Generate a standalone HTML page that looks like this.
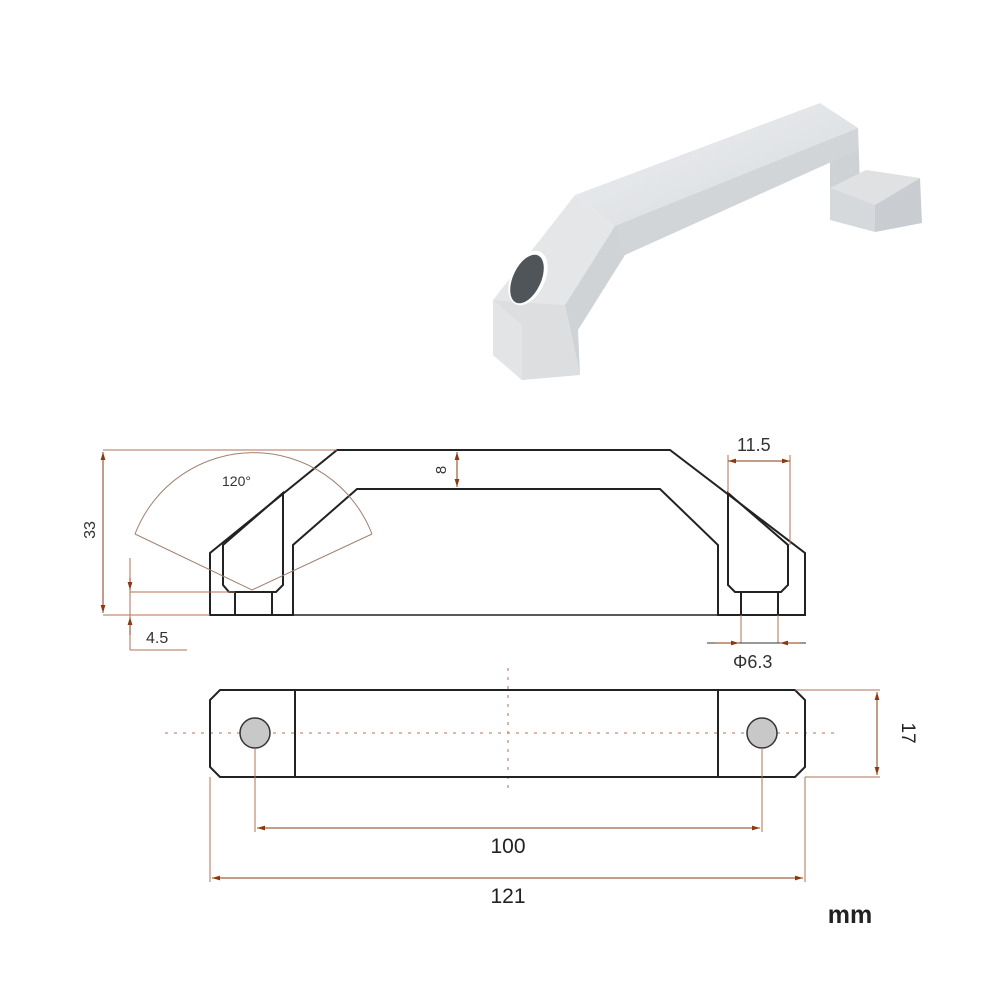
<!DOCTYPE html>
<html><head><style>body{margin:0;background:#fff}svg{display:block}</style></head><body>
<svg width="1000" height="1000" viewBox="0 0 1000 1000" xmlns="http://www.w3.org/2000/svg" font-family="Liberation Sans, sans-serif">
<defs>
<marker id="a" viewBox="0 0 10 10" refX="10" refY="5" markerWidth="8" markerHeight="8" orient="auto-start-reverse"><path d="M0,2 L10,5 L0,8 z" fill="#8a3a10"/></marker>
<linearGradient id="g1" x1="0" y1="0" x2="1" y2="1"><stop offset="0" stop-color="#eef0f2"/><stop offset="1" stop-color="#d6d9dc"/></linearGradient>
</defs>
<!-- photo -->
<g stroke="none">
<polygon points="830,140 858,128 860,185 875,205 830,190" fill="#cfd2d5"/>
<polygon points="830,188 875,205 875,232 830,220" fill="#d6d9dc"/>
<polygon points="875,205 830,188 866,170 920,178" fill="#dfe1e3"/>
<polygon points="875,205 920,178 922,223 875,232" fill="#c9ccd0"/>
<polygon points="610,226 858,128 858,150 625,255" fill="#d2d5d8"/>
<polygon points="575,195 820,103 858,128 615,226" fill="url(#g1)"/>
<polygon points="493,300 575,195 615,226 565,305" fill="#e4e6e8"/>
<polygon points="565,305 615,226 625,255 578,330 580,375" fill="#d0d3d6"/>
<polygon points="493,300 565,305 580,375 522,380 493,355" fill="#dcdee0"/>
<polygon points="493,300 522,325 522,380 493,355" fill="#e2e4e6"/>
<ellipse cx="528" cy="278" rx="17" ry="29" transform="rotate(25 528 278)" fill="#fff"/>
<ellipse cx="527" cy="279" rx="14" ry="26" transform="rotate(25 527 279)" fill="#50555a"/>
</g>
<!-- side view -->
<g fill="none" stroke="#222" stroke-width="2">
<path d="M210,615 L210,553 L337,450 L670,450 L805,553 L805,615 L718,615 L718,545 L660,489 L357,489 L293,545 L293,615 Z"/>
<path d="M223,545 L283,493 L283,585 L276,592 L229,592 L223,585 Z"/>
<path d="M235,592 L235,615 M272,592 L272,615"/>
<path d="M728,493 L788,545 L788,585 L781,592 L735,592 L728,585 Z"/>
<path d="M741,592 L741,615 M778,592 L778,615"/>
<path d="M210,615 L805,615" stroke-width="1.5"/>
</g>
<g fill="none" stroke="#b07050" stroke-width="1">
<path d="M103,450 L337,450 M103,615 L210,615"/>
<path d="M130,558 L130,650 M130,592 L235,592 M130,650 L187,650"/>
<path d="M728,455 L728,493 M790,455 L790,545"/>
<path d="M741,615 L741,643 M778,615 L778,643"/>
<path d="M135,534 A127,127 0 0 1 372,534" stroke="#a08070"/>
<path d="M135,534 L252,590 L372,534" stroke="#a08070"/>
</g>
<g stroke="#8a3a10" stroke-width="1" fill="none">
<line x1="103" y1="452" x2="103" y2="613" marker-start="url(#a)" marker-end="url(#a)"/>
<line x1="457" y1="452" x2="457" y2="487" marker-start="url(#a)" marker-end="url(#a)"/>
<line x1="130" y1="578" x2="130" y2="590" marker-end="url(#a)"/>
<line x1="130" y1="635" x2="130" y2="617" marker-end="url(#a)"/>
<line x1="728" y1="461" x2="790" y2="461" marker-start="url(#a)" marker-end="url(#a)"/>
<line x1="707" y1="643" x2="806" y2="643" stroke="#333"/>
<line x1="715" y1="643" x2="739" y2="643" marker-end="url(#a)"/>
<line x1="800" y1="643" x2="780" y2="643" marker-end="url(#a)"/>
</g>
<g font-size="16" fill="#333">
<text x="222" y="486" font-size="14">120°</text>
<text x="146" y="643">4.5</text>
<text x="737" y="451" font-size="18">11.5</text>
<text x="733" y="668" font-size="18">Φ6.3</text>
<text transform="translate(95,530) rotate(-90)" text-anchor="middle">33</text>
<text transform="translate(446,470) rotate(-90)" text-anchor="middle" font-size="15">8</text>
</g>
<!-- top view -->
<g stroke="#c09080" stroke-width="1.3" stroke-dasharray="3,6" fill="none">
<line x1="165" y1="733" x2="840" y2="733"/>
<line x1="508" y1="668" x2="508" y2="790"/>
</g>
<g fill="none" stroke="#222" stroke-width="2">
<path d="M220,690 L795,690 L805,700 L805,767 L795,777 L220,777 L210,767 L210,700 Z"/>
<path d="M295,690 L295,777 M718,690 L718,777"/>
</g>
<circle cx="255" cy="733" r="15" fill="#c8c8c8" stroke="#333" stroke-width="1.5"/>
<circle cx="762" cy="733" r="15" fill="#c8c8c8" stroke="#333" stroke-width="1.5"/>
<g fill="none" stroke="#b07050" stroke-width="1">
<path d="M795,690 L880,690 M805,777 L880,777"/>
<path d="M255,748 L255,832 M762,748 L762,832"/>
<path d="M210,777 L210,882 M805,777 L805,882"/>
</g>
<g stroke="#8a3a10" stroke-width="1">
<line x1="877" y1="692" x2="877" y2="775" marker-start="url(#a)" marker-end="url(#a)"/>
<line x1="257" y1="828" x2="760" y2="828" marker-start="url(#a)" marker-end="url(#a)"/>
<line x1="212" y1="878" x2="803" y2="878" marker-start="url(#a)" marker-end="url(#a)"/>
</g>
<g fill="#222" font-size="21" text-anchor="middle">
<text x="508" y="853">100</text>
<text x="508" y="903">121</text>
<text transform="translate(902,733) rotate(90)" font-size="19">17</text>
<text x="850" y="923" font-size="25" font-weight="bold">mm</text>
</g>
</svg>
</body></html>
